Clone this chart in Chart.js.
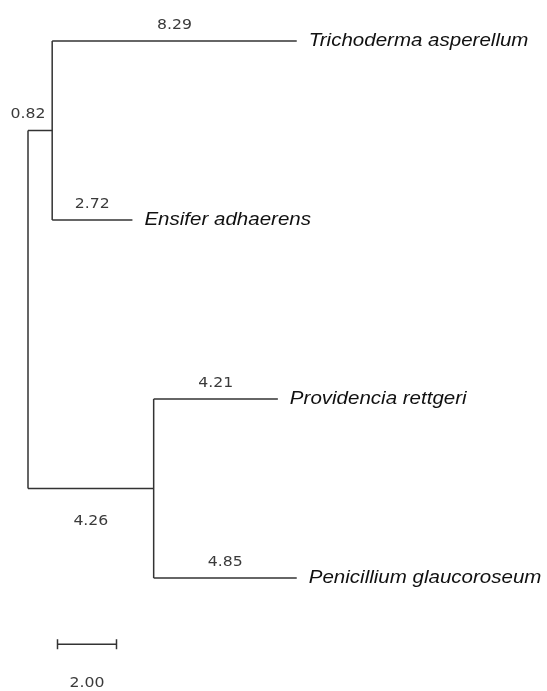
<!DOCTYPE html>
<html>
<head>
<meta charset="utf-8">
<title>Phylogenetic tree</title>
<script src="https://cdn.jsdelivr.net/npm/chart.js@4.4.0/dist/chart.umd.min.js"></script>
<style>
    html, body { margin: 0; padding: 0; background: #fff; }
    #wrap { width: 547px; height: 691px; }
</style>
</head>
<body>
<div id="wrap"><canvas id="tree" width="547" height="691"></canvas></div>
<script>
// leaves, top to bottom
const taxa = ['Trichoderma asperellum', 'Ensifer adhaerens', 'Providencia rettgeri', 'Penicillium glaucoroseum'];
const leafBranch = [8.29, 2.72, 4.21, 4.85];
// two clades off the root: (taxa 0,1) and (taxa 2,3)
const cladeMembers = [[0, 1], [2, 3]];
const cladeBranch = [0.82, 4.26];
const scaleBar = 2.00;

const LINE = '#333';
// the picture is a bit wider than tall, so text is stretched sideways
const NUM_STRETCH = 1.12;
const NAME_STRETCH = 1.08;

// build node positions from the branch lengths
const leafY = taxa.map((t, i) => i);
const cladeX = cladeBranch.slice();
const cladeY = cladeMembers.map(m => (leafY[m[0]] + leafY[m[m.length - 1]]) / 2);
const leafX = [];
const leafParent = [];
cladeMembers.forEach((m, k) => m.forEach(i => {
    leafX[i] = cladeX[k] + leafBranch[i];
    leafParent[i] = k;
}));

function seg(a, b) {
    return {
        data: [a, b],
        showLine: true,
        borderColor: LINE,
        borderWidth: 1.5,
        pointRadius: 0,
        tension: 0
    };
}

const datasets = [];
// root vertical
datasets.push(seg({ x: 0, y: cladeY[0] }, { x: 0, y: cladeY[1] }));
cladeMembers.forEach((m, k) => {
    datasets.push(seg({ x: 0, y: cladeY[k] }, { x: cladeX[k], y: cladeY[k] }));
    datasets.push(seg({ x: cladeX[k], y: leafY[m[0]] }, { x: cladeX[k], y: leafY[m[m.length - 1]] }));
});
taxa.forEach((t, i) => {
    datasets.push(seg({ x: cladeX[leafParent[i]], y: leafY[i] }, { x: leafX[i], y: leafY[i] }));
});
// scale bar
const barY = 3.37;
datasets.push({
    data: [{ x: 1.0, y: barY }, { x: 1.0 + scaleBar, y: barY }],
    showLine: true,
    borderColor: LINE,
    borderWidth: 1.5,
    pointStyle: 'line',
    rotation: 90,
    pointRadius: 5,
    pointBorderColor: LINE,
    pointBorderWidth: 1.5
});

function stretchedText(ctx, txt, cx, cy, align, sx) {
    ctx.save();
    ctx.translate(cx, cy);
    ctx.scale(sx, 1);
    ctx.textAlign = align;
    ctx.fillText(txt, 0, 0);
    ctx.restore();
}

const treeLabels = {
    id: 'treeLabels',
    afterDatasetsDraw(chart) {
        const { ctx, scales: { x, y } } = chart;
        ctx.save();
        ctx.textBaseline = 'middle';

        // branch lengths
        ctx.font = '14px "DejaVu Sans", Tahoma, sans-serif';
        ctx.fillStyle = '#3a3a3a';
        function branchLabel(x0, x1, yv, value, below) {
            const px0 = x.getPixelForValue(x0), px1 = x.getPixelForValue(x1);
            const txt = value.toFixed(2);
            const w = ctx.measureText(txt).width * NUM_STRETCH;
            const cx = (px1 - px0) > w ? (px0 + px1) / 2 : px0;
            const py = y.getPixelForValue(yv) + (below ? 33 : -16);
            stretchedText(ctx, txt, cx, py, 'center', NUM_STRETCH);
        }
        cladeMembers.forEach((m, k) => {
            branchLabel(0, cladeX[k], cladeY[k], cladeBranch[k], k === cladeMembers.length - 1);
        });
        taxa.forEach((t, i) => {
            branchLabel(cladeX[leafParent[i]], leafX[i], leafY[i], leafBranch[i], false);
        });

        // scale label
        stretchedText(ctx, scaleBar.toFixed(2), x.getPixelForValue(1.0 + scaleBar / 2),
            y.getPixelForValue(barY) + 39, 'center', NUM_STRETCH);

        // taxon names
        ctx.font = 'italic 19px "Liberation Sans", Arial, sans-serif';
        ctx.fillStyle = '#111';
        taxa.forEach((t, i) => {
            stretchedText(ctx, t, x.getPixelForValue(leafX[i]) + 12, y.getPixelForValue(leafY[i]), 'left', NAME_STRETCH);
        });
        ctx.restore();
    }
};

const PX_PER_UNIT = 29.5;
new Chart(document.getElementById('tree'), {
    type: 'scatter',
    data: { datasets },
    options: {
        responsive: false,
        animation: false,
        layout: { padding: 0, autoPadding: false },
        plugins: { legend: { display: false }, tooltip: { enabled: false } },
        scales: {
            x: { type: 'linear', display: false, min: -28 / PX_PER_UNIT, max: (547 - 28) / PX_PER_UNIT },
            y: { type: 'linear', display: false, reverse: true, min: -41 / 179, max: (691 - 41) / 179 }
        }
    },
    plugins: [treeLabels]
});
</script>
</body>
</html>
